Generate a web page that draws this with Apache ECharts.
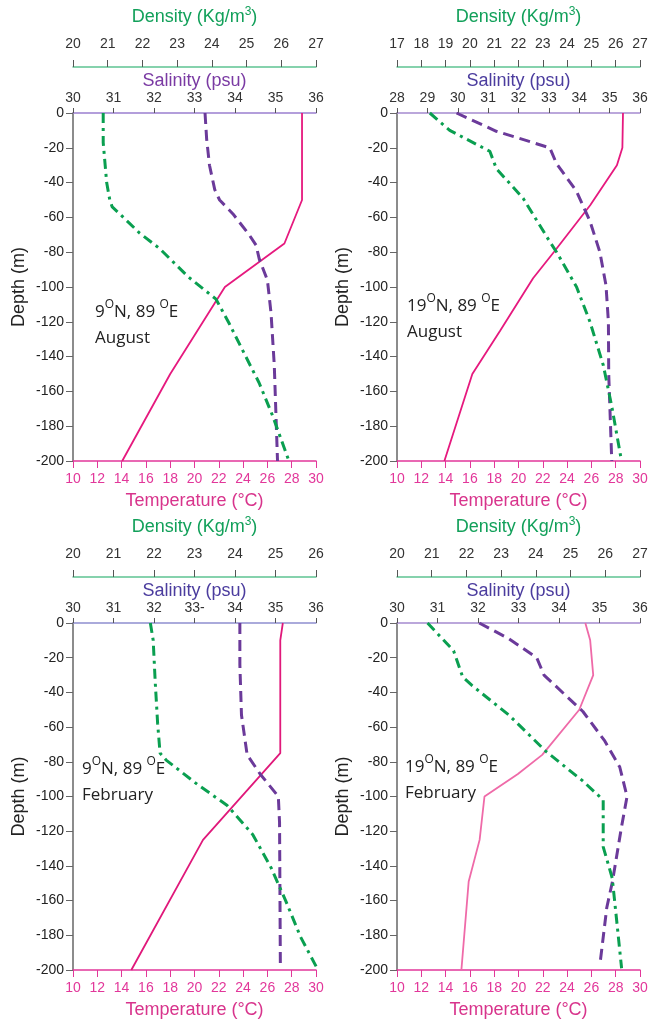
<!DOCTYPE html>
<html>
<head>
<meta charset="utf-8">
<script src="https://cdn.jsdelivr.net/npm/echarts@6/dist/echarts.min.js"></script>
<style>
html, body { margin: 0; background: #fff; }
#chart { width: 652px; height: 1020px; }
</style>
</head>
<body>
<div id="chart"></div>
<script>
// profiles as [value, depth]
const tempAug9 = [[28.85, 0], [28.85, -50], [27.4, -75], [22.5, -100], [18.0, -150], [14.05, -200]];
const salAug9 = [[33.26, 0], [33.3, -15], [33.37, -30], [33.5, -44], [33.62, -50], [33.95, -58], [34.35, -70], [34.52, -76], [34.6, -84], [34.8, -96], [34.89, -115], [34.97, -145], [35.05, -200]];
const densAug9 = [[20.87, 0], [20.87, -17], [20.97, -40], [21.06, -50], [21.13, -54], [21.4, -59], [21.92, -69], [22.5, -78], [23.31, -94], [24.12, -107], [24.5, -121], [25.13, -146], [25.36, -155], [25.75, -174], [26.22, -200]];

const tempAug19 = [[28.6, 0], [28.55, -20], [28.1, -30], [25.9, -53], [22.9, -80], [21.2, -95], [18.5, -125], [16.2, -150], [13.9, -200]];
const salAug19 = [[29.96, 0], [31.27, -10.5], [33.03, -20], [33.25, -29], [33.91, -45], [34.35, -62], [34.68, -80], [34.88, -99], [34.96, -120], [34.97, -150], [35.07, -200]];
const densAug19 = [[18.35, 0], [19.17, -10], [20.82, -22], [21.09, -32], [22.19, -49], [23.29, -74], [23.57, -80], [24.39, -100], [24.94, -120], [25.49, -145], [25.83, -168], [26.24, -200]];

const tempFeb9 = [[27.27, 0], [27.06, -10], [27.06, -75], [20.7, -125], [14.8, -200]];
const salFeb9 = [[34.12, 0], [34.12, -24], [34.16, -53], [34.3, -76], [34.62, -87], [35.07, -100], [35.1, -115], [35.12, -198]];
const densFeb9 = [[21.91, 0], [21.98, -10], [22.03, -34], [22.09, -58], [22.15, -75], [22.3, -79], [23.07, -93], [23.8, -105], [24.44, -122], [24.89, -141], [25.25, -160], [25.62, -181], [26.05, -200]];

const tempFeb19 = [[25.5, 0], [25.9, -10], [26.15, -30], [25.0, -50], [21.95, -76], [19.95, -87], [17.2, -100], [16.8, -125], [15.9, -149], [15.3, -200]];
const salFeb19 = [[32.03, 0], [32.76, -9], [33.45, -20], [33.63, -30], [34.13, -41], [34.59, -51], [35.13, -68], [35.5, -83], [35.68, -100], [35.54, -118], [35.32, -149], [35.18, -164], [35.02, -195]];
const densFeb19 = [[20.88, 0], [21.63, -16], [21.89, -31], [22.16, -36], [23.22, -53], [24.29, -74], [25.35, -91], [25.94, -102], [25.94, -129], [26.2, -147], [26.31, -168], [26.47, -199]];

const tempRange = [10, 30];
const depthRange = [-200, 0];
const salRanges = [[30, 36], [28, 36], [30, 36], [30, 36]];
const densRanges = [[20, 27], [17, 27], [20, 26], [20, 27]];
const places = [['9', '89', 'August'], ['19', '89', 'August'], ['9', '89', 'February'], ['19', '89', 'February']];

const font = '"Liberation Sans", Arial, sans-serif';
const noteFont = '"Open Sans", sans-serif';
const pink = '#e2379a';
const green = '#0a9f50';

const panels = [
	{ left: 73, top: 113, temp: tempAug9, sal: salAug9, dens: densAug9, tempColor: '#e6197e', salTitle: '#7a3aa3', salLine: '#9a7fcf', textPos: [95, 299] },
	{ left: 397, top: 113, temp: tempAug19, sal: salAug19, dens: densAug19, tempColor: '#e6197e', salTitle: '#4b3c9e', salLine: '#a58bd0', textPos: [407, 293] },
	{ left: 73, top: 623, temp: tempFeb9, sal: salFeb9, dens: densFeb9, tempColor: '#e0187a', salTitle: '#4b3c9e', salLine: '#8f8fd0', textPos: [82, 756] },
	{ left: 397, top: 623, temp: tempFeb19, sal: salFeb19, dens: densFeb19, tempColor: '#ef6aa8', salTitle: '#4b3c9e', salLine: '#a58bd0', textPos: [405, 754] }
];

let grids = [], xAxes = [], yAxes = [], series = [], texts = [];

panels.forEach((p, i) => {
	grids.push({ left: p.left, top: p.top, width: 243, height: 348 });

	// temperature (bottom)
	xAxes.push({
		gridIndex: i, type: 'value', position: 'bottom', min: tempRange[0], max: tempRange[1], interval: 2,
		axisLine: { onZero: false, lineStyle: { color: pink, width: 1.5 } },
		axisTick: { length: 7, lineStyle: { color: pink } },
		axisLabel: { color: pink, fontSize: 14, margin: 11, fontFamily: font },
		splitLine: { show: false },
		name: 'Temperature (°C)', nameLocation: 'middle', nameGap: 31,
		nameTextStyle: { color: '#d8348c', fontSize: 18, fontFamily: font }
	});
	// salinity (top)
	xAxes.push({
		gridIndex: i, type: 'value', position: 'top', min: salRanges[i][0], max: salRanges[i][1], interval: 1,
		axisLine: { onZero: false, lineStyle: { color: p.salLine, width: 1.5 } },
		axisTick: { length: 5, lineStyle: { color: '#555' } },
		axisLabel: {
			color: '#333', fontSize: 14, margin: 8, fontFamily: font,
			formatter: (v) => (i === 2 && v === 33) ? '33-' : String(v)
		},
		splitLine: { show: false },
		name: 'Salinity (psu)', nameLocation: 'middle', nameGap: 22,
		nameTextStyle: { color: p.salTitle, fontSize: 18, fontFamily: font }
	});
	// density (top, offset)
	xAxes.push({
		gridIndex: i, type: 'value', position: 'top', offset: 46, min: densRanges[i][0], max: densRanges[i][1], interval: 1,
		axisLine: { onZero: false, lineStyle: { color: '#5fc493', width: 1.5 } },
		axisTick: { length: 7, lineStyle: { color: '#555' } },
		axisLabel: { color: '#333', fontSize: 14, margin: 16, fontFamily: font },
		splitLine: { show: false },
		name: '{a|Density (Kg/m}{s|3}{a|)}', nameLocation: 'middle', nameGap: 39,
		nameTextStyle: {
			rich: {
				a: { color: '#12a05a', fontSize: 18, lineHeight: 22, fontFamily: font },
				s: { color: '#12a05a', fontSize: 12, lineHeight: 12, verticalAlign: 'top', fontFamily: font }
			}
		}
	});

	yAxes.push({
		gridIndex: i, type: 'value', min: depthRange[0], max: depthRange[1], interval: 20,
		axisLine: { show: true, onZero: false, lineStyle: { color: '#666', width: 1.5 } },
		axisTick: { show: true, length: 7, lineStyle: { color: '#666' } },
		axisLabel: { color: '#222', fontSize: 14, margin: 9, fontFamily: font },
		splitLine: { show: false },
		name: 'Depth (m)', nameLocation: 'middle', nameRotate: 90, nameGap: 45,
		nameTextStyle: { color: '#222', fontSize: 18, fontFamily: font }
	});

	series.push({
		type: 'line', xAxisIndex: 3 * i, yAxisIndex: i, data: p.temp, symbol: 'none',
		lineStyle: { color: p.tempColor, width: 1.8 }
	});
	series.push({
		type: 'line', xAxisIndex: 3 * i + 1, yAxisIndex: i, data: p.sal, symbol: 'none',
		lineStyle: { color: '#6b3a9a', width: 3, type: [11, 6] }
	});
	series.push({
		type: 'line', xAxisIndex: 3 * i + 2, yAxisIndex: i, data: p.dens, symbol: 'none',
		lineStyle: { color: green, width: 3, type: [10, 5, 3, 5] }
	});

	const pl = places[i];
	texts.push({
		type: 'text', left: p.textPos[0], top: p.textPos[1], z: 100,
		style: {
			text: '{a|' + pl[0] + '}{s|O}{a|N, ' + pl[1] + ' }{s|O}{a|E}\n{a|' + pl[2] + '}',
			rich: {
				a: { fontSize: 17, lineHeight: 26, fill: '#222', fontFamily: noteFont },
				s: { fontSize: 12, lineHeight: 15, verticalAlign: 'top', fill: '#222', fontFamily: noteFont }
			}
		}
	});
});

let chart = echarts.init(document.getElementById('chart'));
chart.setOption({
	animation: false,
	backgroundColor: '#fff',
	grid: grids,
	xAxis: xAxes,
	yAxis: yAxes,
	series: series,
	graphic: texts
});
</script>
</body>
</html>
